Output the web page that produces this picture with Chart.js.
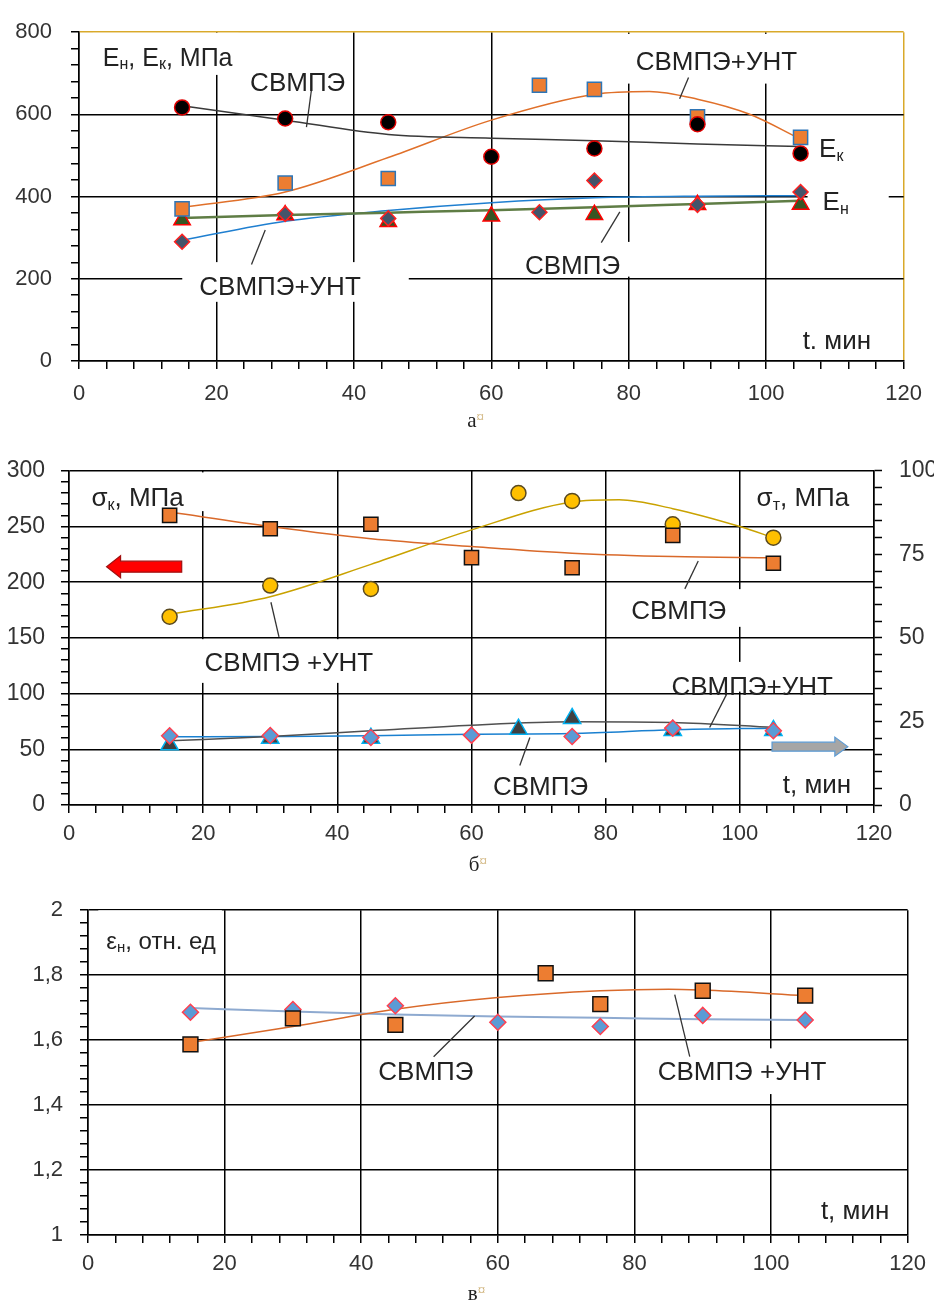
<!DOCTYPE html>
<html>
<head>
<meta charset="utf-8">
<script src="https://cdn.jsdelivr.net/npm/chart.js@4.4.1/dist/chart.umd.min.js"></script>
<style>
  html, body { margin: 0; padding: 0; background: #fff; }
  .wrap { position: absolute; left: 0; width: 934px; }
  #wrapA { top: 0; height: 440px; }
  #wrapB { top: 440px; height: 440px; }
  #wrapC { top: 880px; height: 426px; }
</style>
</head>
<body>
<div class="wrap" id="wrapA"><canvas id="chartA"></canvas></div>
<div class="wrap" id="wrapB"><canvas id="chartB"></canvas></div>
<div class="wrap" id="wrapC"><canvas id="chartC"></canvas></div>
<script>
// время обработки, мин
const minutesPe = [15, 30, 45, 60, 75, 90, 105];
const minutesCnt = [15, 30, 45, 67, 75, 90, 105];

// а) модули Ен, Ек, МПа
const ekPe = [617, 590, 581, 497, 517, 576, 505];
const ekCnt = [370, 433, 444, 671, 661, 594, 544];
const enPe = [343, 355, 339, 352, 356, 380, 381];
const enCnt = [290, 358, 347, 362, 439, 380, 411];
const fitEkPe = [621, 586, 551, 542, 536, 528, 522];
const fitEkCntX = [15, 30, 45, 60, 75, 83, 90, 97.5, 105];
const fitEkCnt = [374, 411, 495, 586, 649, 656, 637, 601, 540];
const fitEnPe = [348, 355, 361, 367, 374, 382, 390];
const fitEnCnt = [294, 340, 366, 385, 397, 401, 402];

// б) прочность σк (левая ось) и σт (правая ось)
const skPe = [260, 248, 252, 222, 213, 242, 217];
const skCnt = [169, 197, 194, 280, 273, 252, 240];
const fitSkPe = [263, 250, 239, 232, 226, 223, 222];
const fitSkCntX = [15, 30, 45, 60, 75, 82, 90, 100, 105];
const fitSkCnt = [171, 187, 216, 247, 272, 274, 266, 250, 240];
const stPe = [20.7, 20.8, 20.2, 20.9, 20.5, 23.0, 22.2];
const stCnt = [18.0, 20.0, 20.0, 22.7, 25.9, 22.3, 22.3];
const fitStPe = [20.4, 20.5, 20.7, 21.2, 21.4, 22.5, 23.0];
const fitStCnt = [19.2, 20.5, 22.2, 23.9, 24.9, 24.7, 23.2];

// в) удлинение εн, отн. ед
const epsCnt = [1.587, 1.667, 1.647, 1.806, 1.711, 1.752, 1.737];
const epsPe = [1.686, 1.694, 1.706, 1.655, 1.642, 1.676, 1.662];
const fitEpsCntX = [15, 30, 45, 60, 75, 85, 90, 105];
const fitEpsCnt = [1.593, 1.642, 1.695, 1.731, 1.752, 1.757, 1.754, 1.737];
const fitEpsPe = [1.699, 1.688, 1.679, 1.673, 1.669, 1.664, 1.662];

const FONT = "'Liberation Sans', Arial, sans-serif";
const SERIF = "'Liberation Serif', 'Times New Roman', serif";
const INK = '#222';
const GOLD = '#d9a92a';
const NONE = 'rgba(0,0,0,0)';

Chart.defaults.font.family = FONT;
Chart.defaults.color = '#333';

const xy = (xs, ys) => xs.map((x, i) => ({ x, y: ys[i] }));

function drawParts(ctx, parts, x, y, size, dry) {
    let cx = x;
    for (const [s, kind] of parts) {
        let font = size + 'px ' + FONT, dy = 0, col = INK;
        if (kind === 'sub') { font = Math.round(size * 0.62) + 'px ' + FONT; dy = size * 0.14; }
        if (kind === 'serif') font = size + 'px ' + SERIF;
        if (kind === 'cur') { font = Math.round(size * 0.7) + 'px ' + SERIF; dy = -size * 0.25; col = '#c9a96a'; }
        ctx.font = font;
        if (!dry) { ctx.fillStyle = col; ctx.fillText(s, cx, y + dy); }
        cx += ctx.measureText(s).width;
    }
    return cx - x;
}

function arrow(ctx, x1, x2, y, shaft, head, len, fill, stroke) {
    const dir = Math.sign(x2 - x1);
    const hx = x2 - dir * len;
    ctx.beginPath();
    ctx.moveTo(x1, y - shaft);
    ctx.lineTo(hx, y - shaft);
    ctx.lineTo(hx, y - head);
    ctx.lineTo(x2, y);
    ctx.lineTo(hx, y + head);
    ctx.lineTo(hx, y + shaft);
    ctx.lineTo(x1, y + shaft);
    ctx.closePath();
    ctx.fillStyle = fill;
    ctx.fill();
    ctx.lineWidth = 1.2;
    ctx.strokeStyle = stroke;
    ctx.stroke();
}

const notesPlugin = {
    id: 'notes',
    beforeDatasetsDraw(chart, args, opts) {
        const ctx = chart.ctx, xs = chart.scales.x, ys = chart.scales.y;
        ctx.save();
        for (const n of opts.labels) {
            if (!n.pad) continue;
            const x = xs.getPixelForValue(n.t), y = ys.getPixelForValue(n.v);
            const w = drawParts(ctx, n.parts, x, y, n.size, true);
            const [pl, pt, pr, pb] = n.pad;
            const cap = n.size * 0.72;
            ctx.fillStyle = '#fff';
            ctx.fillRect(x - pl, y - cap - pt, w + pl + pr, cap + pt + pb);
        }
        ctx.restore();
    },
    afterDatasetsDraw(chart, args, opts) {
        const ctx = chart.ctx, xs = chart.scales.x, ys = chart.scales.y;
        ctx.save();
        ctx.textAlign = 'left';
        ctx.textBaseline = 'alphabetic';
        for (const n of opts.labels) {
            drawParts(ctx, n.parts, xs.getPixelForValue(n.t), ys.getPixelForValue(n.v), n.size, false);
        }
        ctx.strokeStyle = '#333';
        ctx.lineWidth = 1.3;
        for (const [t1, v1, t2, v2] of opts.leaders) {
            ctx.beginPath();
            ctx.moveTo(xs.getPixelForValue(t1), ys.getPixelForValue(v1));
            ctx.lineTo(xs.getPixelForValue(t2), ys.getPixelForValue(v2));
            ctx.stroke();
        }
        for (const a of (opts.arrows || [])) {
            arrow(ctx, xs.getPixelForValue(a.from), xs.getPixelForValue(a.to), ys.getPixelForValue(a.v),
                a.shaft, a.head, a.len, a.fill, a.stroke);
        }
        ctx.restore();
    }
};

function xAxis(edgeColor, axisHeight, pad) {
    return {
        type: 'linear', min: 0, max: 120,
        ticks: {
            stepSize: 4, autoSkip: false, maxRotation: 0, padding: pad,
            font: { size: 22 }, color: '#333',
            callback: v => (v % 20 === 0 ? v : '')
        },
        grid: {
            color: c => (c.tick.value === 120 ? edgeColor : (c.tick.value % 20 === 0 ? '#000' : NONE)),
            lineWidth: 1.5, tickLength: 8, tickColor: '#000', tickWidth: 1.5
        },
        border: { color: '#000', width: 1.5 },
        afterFit: s => { s.height = axisHeight; }
    };
}

function scatter(xs, ys, style, r, fill, edge, axis) {
    return {
        data: xy(xs, ys), showLine: false, yAxisID: axis || 'y', order: 0,
        pointStyle: style, pointRadius: r, pointHoverRadius: r,
        pointBackgroundColor: fill, pointBorderColor: edge, pointBorderWidth: 1.5
    };
}

function trend(xs, ys, color, width, axis) {
    return {
        data: xy(xs, ys), yAxisID: axis || 'y', order: 1, pointRadius: 0,
        borderColor: color, borderWidth: width, fill: false,
        cubicInterpolationMode: 'monotone'
    };
}

const baseOptions = {
    responsive: true,
    maintainAspectRatio: false,
    animation: false,
    events: []
};

// ---------- а ----------
new Chart(document.getElementById('chartA'), {
    type: 'line',
    data: {
        datasets: [
            trend(minutesPe, fitEkPe, '#3a3a3a', 1.5),
            trend(fitEkCntX, fitEkCnt, '#e0702a', 1.5),
            trend(minutesPe, fitEnPe, '#5f7d45', 2.5),
            trend(minutesPe, fitEnCnt, '#1f7fd0', 1.5),
            scatter(minutesPe, ekPe, 'circle', 7.5, '#000', '#e00000'),
            scatter(minutesCnt, ekCnt, 'rect', 10, '#ed7d31', '#2e75b6'),
            scatter(minutesCnt, enCnt, 'rectRot', 7.5, '#44546a', '#ff2020'),
            scatter(minutesPe, enPe, 'triangle', 9.5, '#375623', '#ff0000')
        ]
    },
    options: {
        ...baseOptions,
        layout: { padding: { top: 25, right: 24, left: 0, bottom: 0 } },
        scales: {
            x: xAxis(GOLD, 79, 12),
            y: {
                min: 0, max: 800,
                ticks: {
                    stepSize: 40, autoSkip: false, padding: 19, font: { size: 22 }, color: '#333',
                    callback: v => (v % 200 === 0 ? v : '')
                },
                grid: {
                    color: c => (c.tick.value === 800 ? GOLD : (c.tick.value % 200 === 0 ? '#000' : NONE)),
                    lineWidth: 1.5, tickLength: 8, tickColor: '#000', tickWidth: 1.5
                },
                border: { color: '#000', width: 1.5 },
                afterFit: s => { s.width = 79; }
            }
        },
        plugins: {
            legend: { display: false },
            tooltip: { enabled: false },
            notes: {
                labels: [
                    { parts: [['E'], ['н', 'sub'], [', E'], ['к', 'sub'], [', МПа']], t: 3.47, v: 718, size: 25, pad: [10, 15, 6, 9] },
                    { parts: [['СВМПЭ']], t: 24.9, v: 657, size: 26 },
                    { parts: [['СВМПЭ+УНТ']], t: 81.0, v: 709, size: 26, pad: [10, 17, 8, 14] },
                    { parts: [['СВМПЭ+УНТ']], t: 17.5, v: 161, size: 26, pad: [17, 14, 48, 7] },
                    { parts: [['СВМПЭ']], t: 64.9, v: 212.6, size: 26, pad: [5, 13, 15, 3] },
                    { parts: [['E'], ['к', 'sub']], t: 107.7, v: 496, size: 26 },
                    { parts: [['E'], ['н', 'sub']], t: 108.2, v: 367, size: 26, pad: [15, 5, 40, 4] },
                    { parts: [['t. мин']], t: 105.3, v: 30, size: 26 },
                    { parts: [['а', 'serif'], ['¤', 'cur']], t: 56.5, v: -160, size: 21 }
                ],
                leaders: [
                    [33.8, 657, 33.1, 569],
                    [88.7, 690, 87.4, 638],
                    [25.1, 235, 27.1, 319],
                    [76.0, 288, 78.7, 363]
                ]
            }
        }
    },
    plugins: [notesPlugin]
});

// ---------- б ----------
new Chart(document.getElementById('chartB'), {
    type: 'line',
    data: {
        datasets: [
            trend(minutesPe, fitSkPe, '#d9692a', 1.5),
            trend(fitSkCntX, fitSkCnt, '#c9a200', 1.5),
            trend(minutesPe, fitStCnt, '#505050', 1.5, 'y1'),
            trend(minutesPe, fitStPe, '#1a80d0', 1.5, 'y1'),
            scatter(minutesPe, skPe, 'rect', 10, '#ed7d31', '#111'),
            scatter(minutesCnt, skCnt, 'circle', 7.5, '#ffc000', '#5a4a20'),
            scatter(minutesPe, stPe, 'rectRot', 8, '#5b9bd5', '#ff4050', 'y1'),
            scatter(minutesCnt, stCnt, 'triangle', 10, '#404040', '#00b0f0', 'y1')
        ]
    },
    options: {
        ...baseOptions,
        layout: { padding: { top: 27, right: 0, left: 0, bottom: 0 } },
        scales: {
            x: xAxis('#000', 75, 8),
            y: {
                position: 'left', min: 0, max: 300,
                ticks: {
                    stepSize: 10, autoSkip: false, padding: 16, font: { size: 23 }, color: '#333',
                    callback: v => (v % 50 === 0 ? v : '')
                },
                grid: {
                    color: c => (c.tick.value % 50 === 0 ? '#000' : NONE),
                    lineWidth: 1.5, tickLength: 8, tickColor: '#000', tickWidth: 1.5
                },
                border: { color: '#000', width: 1.5 },
                afterFit: s => { s.width = 69; }
            },
            y1: {
                position: 'right', min: 0, max: 100,
                ticks: {
                    stepSize: 5, autoSkip: false, padding: 17, font: { size: 23 }, color: '#333',
                    callback: v => (v % 25 === 0 ? v : '')
                },
                grid: { drawOnChartArea: false, tickLength: 8, tickColor: '#000', tickWidth: 1.5 },
                border: { color: '#000', width: 1.5 },
                afterFit: s => { s.width = 60; }
            }
        },
        plugins: {
            legend: { display: false },
            tooltip: { enabled: false },
            notes: {
                labels: [
                    { parts: [['σ'], ['к', 'sub'], [', МПа']], t: 3.34, v: 268.3, size: 26, pad: [8, 15, 24, 5] },
                    { parts: [['σ'], ['т', 'sub'], [', МПа']], t: 102.5, v: 268.3, size: 26 },
                    { parts: [['СВМПЭ +УНТ']], t: 20.2, v: 120.4, size: 26, pad: [8, 13, 8, 12] },
                    { parts: [['СВМПЭ']], t: 83.8, v: 167.1, size: 26, pad: [5, 11, 25, 8] },
                    { parts: [['СВМПЭ+УНТ']], t: 89.8, v: 99.1, size: 26, pad: [5, 14, 5, -3] },
                    { parts: [['СВМПЭ']], t: 63.2, v: 8.9, size: 26, pad: [6, 14, 30, 3] },
                    { parts: [['t, мин']], t: 106.4, v: 10.4, size: 26 },
                    { parts: [['б', 'serif'], ['¤', 'cur']], t: 59.6, v: -59.3, size: 21 }
                ],
                leaders: [
                    [30.1, 182, 31.3, 151],
                    [93.8, 219, 91.8, 194],
                    [98.0, 99.1, 95.5, 69.5],
                    [67.2, 35.5, 68.7, 60.6]
                ],
                arrows: [
                    { from: 16.8, to: 5.6, v: 213.9, shaft: 5.5, head: 11, len: 14, fill: '#ff0000', stroke: '#a01010' },
                    { from: 104.8, to: 116.1, v: 52.4, shaft: 4.5, head: 9.5, len: 13, fill: '#a6a6a6', stroke: '#5b9bd5' }
                ]
            }
        }
    },
    plugins: [notesPlugin]
});

// ---------- в ----------
new Chart(document.getElementById('chartC'), {
    type: 'line',
    data: {
        datasets: [
            trend(fitEpsCntX, fitEpsCnt, '#d9692a', 1.5),
            trend(minutesPe, fitEpsPe, '#8eaad0', 2),
            scatter(minutesCnt, epsCnt, 'rect', 10.5, '#ed7d31', '#111'),
            scatter(minutesPe, epsPe, 'rectRot', 8, '#5b9bd5', '#ff4050')
        ]
    },
    options: {
        ...baseOptions,
        layout: { padding: { top: 15, right: 26, left: 0, bottom: 0 } },
        scales: {
            x: xAxis('#000', 71, 8),
            y: {
                min: 1, max: 2,
                ticks: {
                    stepSize: 0.04, autoSkip: false, padding: 17, font: { size: 22 }, color: '#333',
                    callback: v => {
                        const k = Math.round(v * 100);
                        return k % 20 === 0 ? String(k / 100).replace('.', ',') : '';
                    }
                },
                grid: {
                    color: c => (Math.round(c.tick.value * 100) % 20 === 0 ? '#000' : NONE),
                    lineWidth: 1.5, tickLength: 8, tickColor: '#000', tickWidth: 1.5
                },
                border: { color: '#000', width: 1.5 },
                afterFit: s => { s.width = 88; }
            }
        },
        plugins: {
            legend: { display: false },
            tooltip: { enabled: false },
            notes: {
                labels: [
                    { parts: [['ε'], ['н', 'sub'], [', отн. ед']], t: 2.68, v: 1.882, size: 24, pad: [8, 21, 6, 17] },
                    { parts: [['СВМПЭ']], t: 42.5, v: 1.476, size: 26 },
                    { parts: [['СВМПЭ +УНТ']], t: 83.4, v: 1.477, size: 26, pad: [5, 13, 5, 14] },
                    { parts: [['t, мин']], t: 107.3, v: 1.049, size: 26 },
                    { parts: [['в', 'serif'], ['¤', 'cur']], t: 55.6, v: 0.8, size: 21 }
                ],
                leaders: [
                    [50.6, 1.549, 56.6, 1.674],
                    [88.1, 1.549, 85.9, 1.740]
                ]
            }
        }
    },
    plugins: [notesPlugin]
});
</script>
</body>
</html>
